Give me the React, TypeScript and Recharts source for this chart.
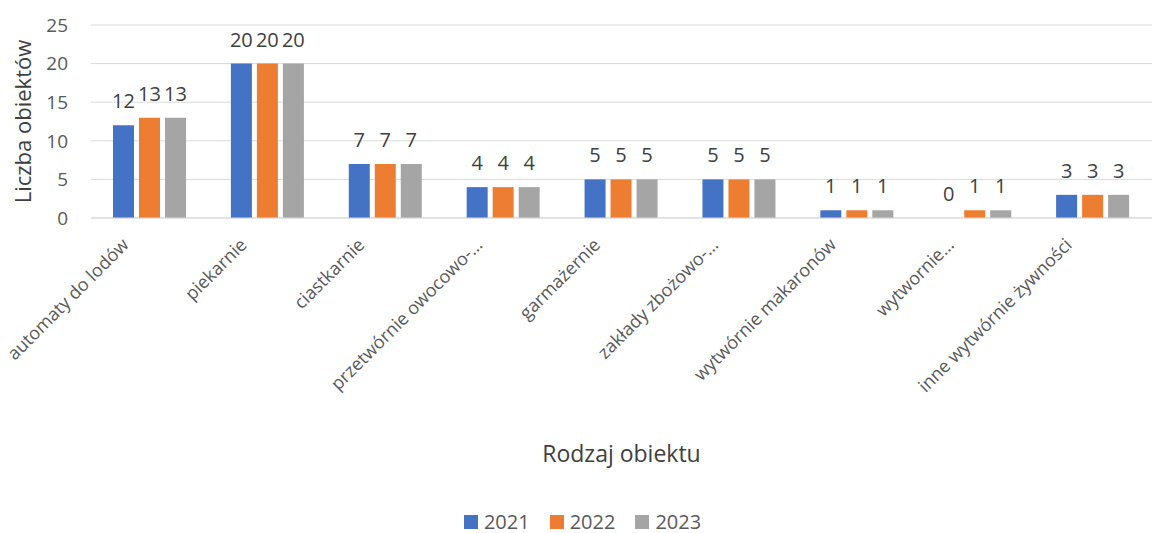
import React from "react";
import {
  BarChart, Bar, XAxis, YAxis, CartesianGrid, Legend, LabelList, Label,
} from "recharts";

// Liczba obiektów wg rodzaju, lata 2021–2023
const kategorie = [
  "automaty do lodów",
  "piekarnie",
  "ciastkarnie",
  "przetwórnie owocowo-…",
  "garmażernie",
  "zakłady zbożowo-…",
  "wytwórnie makaronów",
  "wytwornie…",
  "inne wytwórnie żywności",
];
const r2021 = [12, 20, 7, 4, 5, 5, 1, 0, 3];
const r2022 = [13, 20, 7, 4, 5, 5, 1, 1, 3];
const r2023 = [13, 20, 7, 4, 5, 5, 1, 1, 3];
const yTicks = [0, 5, 10, 15, 20, 25];

const serie = [
  { key: "y2021", name: "2021", color: "#4472C4" },
  { key: "y2022", name: "2022", color: "#ED7D31" },
  { key: "y2023", name: "2023", color: "#A5A5A5" },
];

const dane = kategorie.map((k, i) => ({
  rodzaj: k, y2021: r2021[i], y2022: r2022[i], y2023: r2023[i],
}));

const FONT = "'Open Sans', sans-serif";

function TickKategoria({ x, y, payload }: any) {
  return (
    <g transform={`translate(${x - 20},${y + 20})`}>
      <text transform="rotate(-45)" textAnchor="end" fontSize={18} fill="#595959" fontFamily={FONT}>
        {payload.value}
      </text>
    </g>
  );
}

function TytulY({ viewBox }: any) {
  const cx = viewBox.x + 22;
  const cy = viewBox.y + viewBox.height / 2;
  return (
    <text x={cx} y={cy} transform={`rotate(-90, ${cx}, ${cy})`} textAnchor="middle"
      dominantBaseline="central" fontSize={22} fill="#404040" fontFamily={FONT}>
      Liczba obiektów
    </text>
  );
}

function TytulX({ viewBox }: any) {
  return (
    <text x={viewBox.x + viewBox.width / 2} y={viewBox.y + 235} textAnchor="middle"
      dominantBaseline="central" fontSize={23} fill="#404040" fontFamily={FONT}>
      Rodzaj obiektu
    </text>
  );
}

function Legenda() {
  return (
    <div style={{ display: "flex", justifyContent: "center", alignItems: "center", gap: 20, height: 22, lineHeight: "22px", fontFamily: FONT }}>
      {serie.map(s => (
        <div key={s.key} style={{ display: "flex", alignItems: "center", gap: 6 }}>
          <span style={{ width: 14, height: 14, background: s.color, display: "inline-block" }} />
          <span style={{ fontSize: 20, color: "#595959" }}>{s.name}</span>
        </div>
      ))}
    </div>
  );
}

export default function App() {
  return (
    <div style={{ position: "absolute", left: 0, top: 0, width: 1155, height: 533, background: "#fff" }}>
      <BarChart width={1155} height={533} data={dane} barSize={21} barGap={5}
        margin={{ top: 25, right: 3, left: 0, bottom: 0 }}>
        <CartesianGrid vertical={false} stroke="#d9d9d9" />
        <XAxis dataKey="rodzaj" interval={0} tickLine={false} axisLine={{ stroke: "#d9d9d9" }}
          height={293} tick={<TickKategoria />}>
          <Label content={<TytulX />} />
        </XAxis>
        <YAxis domain={[0, 25]} ticks={yTicks} width={91} axisLine={false} tickLine={false} tickMargin={17}
          tick={{ fontSize: 19, fill: "#595959", fontFamily: FONT }}>
          <Label content={<TytulY />} />
        </YAxis>
        <Legend verticalAlign="bottom" height={22} content={<Legenda />}
          wrapperStyle={{ top: 511, left: 0, width: 1165, height: 22 }} />
        {serie.map(s => (
          <Bar key={s.key} dataKey={s.key} name={s.name} fill={s.color} minPointSize={0.01} isAnimationActive={false}>
            <LabelList dataKey={s.key} position="top" offset={17}
              style={{ fontSize: 20, fill: "#404040", fontFamily: FONT }} />
          </Bar>
        ))}
      </BarChart>
    </div>
  );
}
